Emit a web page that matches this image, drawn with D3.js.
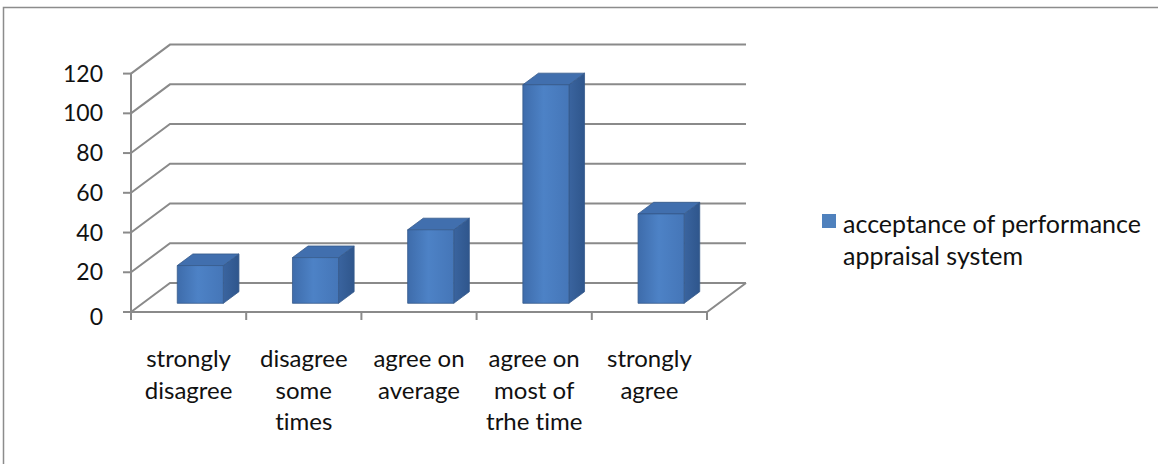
<!DOCTYPE html>
<html>
<head>
<meta charset="utf-8">
<script src="https://cdn.jsdelivr.net/npm/d3@7"></script>
<style>
  html, body { margin: 0; padding: 0; background: #fff; }
  svg { display: block; }
  text { font-family: Lato, "Open Sans", sans-serif; fill: #111; font-variant-ligatures: none; font-feature-settings: "liga" 0; }
</style>
</head>
<body>
<svg id="chart" width="1158" height="464"></svg>
<script>
// Survey responses: acceptance of the performance appraisal system
const categories = [
  "strongly\ndisagree",
  "disagree\nsome\ntimes",
  "agree on\naverage",
  "agree on\nmost of\ntrhe time",
  "strongly\nagree"
];
const seriesName = "acceptance of performance\nappraisal system";
const values = [19, 23, 37, 110, 45];
const yTicks = [0, 20, 40, 60, 80, 100, 120];

const svg = d3.select("#chart");

// outer chart frame
svg.append("rect")
  .attr("x", 3.5).attr("y", 7.5)
  .attr("width", 1170).attr("height", 480)
  .attr("fill", "none").attr("stroke", "#8c8c8c").attr("stroke-width", 1.5);

// front plane of the 3D plot area and the depth offset to the back wall
const x = d3.scaleBand().domain(categories).range([131, 707]).paddingInner(0).paddingOuter(0);
const y = d3.scaleLinear().domain([0, 120]).range([312, 73.6]);
const depth = { dx: 39, dy: -29 };
const backRight = 746;
const gridColor = "#8a8a8a";

const grid = svg.append("g").attr("fill", "none").attr("stroke", gridColor).attr("stroke-width", 2);

// side wall diagonals and back wall gridlines
yTicks.forEach(t => {
  const yf = y(t);
  grid.append("path")
    .attr("d", `M${x.range()[0]},${yf} L${x.range()[0] + depth.dx},${yf + depth.dy} L${backRight},${yf + depth.dy}`);
});

// floor front edge and right edge
grid.append("path")
  .attr("d", `M${x.range()[0]},${y(0)} L${x.range()[1]},${y(0)} L${x.range()[1] + depth.dx},${y(0) + depth.dy}`);

// value axis line with ticks
grid.append("line")
  .attr("x1", 131).attr("x2", 131)
  .attr("y1", y(120)).attr("y2", y(0) + 8);
yTicks.forEach(t => {
  grid.append("line")
    .attr("x1", 123).attr("x2", 131)
    .attr("y1", y(t)).attr("y2", y(t));
});

// category ticks along the floor front edge
const catEdges = categories.map(c => x(c)).concat([x.range()[1]]);
catEdges.forEach(e => {
  grid.append("line")
    .attr("x1", e).attr("x2", e)
    .attr("y1", y(0)).attr("y2", y(0) + 8);
});

// value labels
svg.append("g").selectAll("text")
  .data(yTicks)
  .join("text")
  .attr("x", 103)
  .attr("y", d => y(d) + (d === 0 ? 5 : 0))
  .attr("dy", "0.35em")
  .attr("text-anchor", "end")
  .attr("font-size", 23)
  .text(d => d);

// gradients for the bar faces
const defs = svg.append("defs");
const gFront = defs.append("linearGradient").attr("id", "gFront").attr("x1", 0).attr("x2", 1).attr("y1", 0).attr("y2", 0);
gFront.append("stop").attr("offset", "0%").attr("stop-color", "#3e6cab");
gFront.append("stop").attr("offset", "45%").attr("stop-color", "#4d82c6");
gFront.append("stop").attr("offset", "100%").attr("stop-color", "#4576b8");
const gSide = defs.append("linearGradient").attr("id", "gSide").attr("x1", 0).attr("x2", 1).attr("y1", 0).attr("y2", 0);
gSide.append("stop").attr("offset", "0%").attr("stop-color", "#3a649f");
gSide.append("stop").attr("offset", "100%").attr("stop-color", "#2f568c");

// 3D bars: front face, right side, top
const barW = x.bandwidth() * 0.4;
const d0 = 0.3, d1 = 0.7;
const bars = svg.append("g").selectAll("g")
  .data(categories.map((c, i) => ({ c, v: values[i] })))
  .join("g")
  .attr("stroke", "#365b8c").attr("stroke-width", 0.8).attr("stroke-linejoin", "round");

bars.each(function(d) {
  const g = d3.select(this);
  const cx = x(d.c) + x.bandwidth() / 2;
  const xl = cx - barW / 2 + d0 * depth.dx;
  const xr = cx + barW / 2 + d0 * depth.dx;
  const yt = y(d.v) + d0 * depth.dy;
  const yb = y(0) + d0 * depth.dy;
  const ddx = (d1 - d0) * depth.dx, ddy = (d1 - d0) * depth.dy;
  g.append("path").attr("fill", "url(#gSide)")
    .attr("d", `M${xr},${yt} L${xr + ddx},${yt + ddy} L${xr + ddx},${yb + ddy} L${xr},${yb} Z`);
  g.append("path").attr("fill", "#416fae")
    .attr("d", `M${xl},${yt} L${xl + ddx},${yt + ddy} L${xr + ddx},${yt + ddy} L${xr},${yt} Z`);
  g.append("path").attr("fill", "url(#gFront)")
    .attr("d", `M${xl},${yt} L${xr},${yt} L${xr},${yb} L${xl},${yb} Z`);
});

// category labels, centred under each band
const catLabels = svg.append("g").selectAll("text")
  .data(categories)
  .join("text")
  .attr("text-anchor", "middle")
  .attr("font-size", 24);
catLabels.each(function(c) {
  const t = d3.select(this);
  c.split("\n").forEach((line, k) => {
    t.append("tspan")
      .attr("x", x(c) + x.bandwidth() / 2)
      .attr("y", 367 + k * 31.7)
      .text(line);
  });
});

// legend
const legend = svg.append("g");
legend.append("rect")
  .attr("x", 822).attr("y", 214).attr("width", 14).attr("height", 14)
  .attr("fill", "#4f81bd");
const lt = legend.append("text").attr("font-size", 25);
seriesName.split("\n").forEach((line, k) => {
  lt.append("tspan").attr("x", 843).attr("y", 233 + k * 32).text(line);
});
</script>
</body>
</html>
